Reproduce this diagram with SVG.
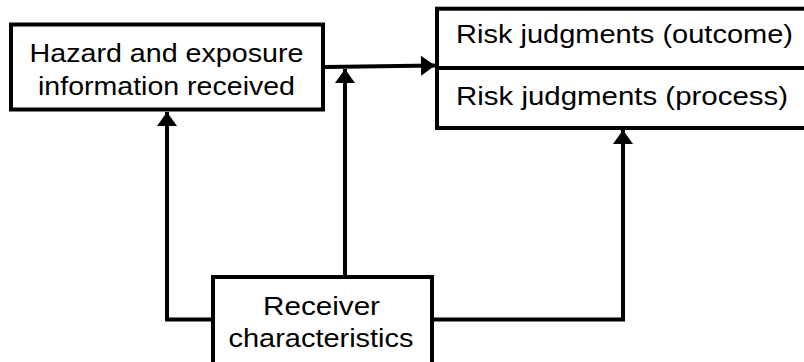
<svg xmlns="http://www.w3.org/2000/svg" width="804" height="362" viewBox="0 0 804 362">
<style>
.box{fill:#fff;stroke:#000;stroke-width:4}
.conn{fill:none;stroke:#000;stroke-width:4}
text{font-family:"Liberation Sans",Arial,sans-serif;font-size:25.5px;fill:#000;text-anchor:middle}
</style>
<defs>
<marker id="arr" markerUnits="userSpaceOnUse" markerWidth="16" markerHeight="20" viewBox="0 0 14 20" refX="14" refY="10" orient="auto">
<path d="M0,0 L14,10 L0,20 Z" fill="#000"/>
</marker>
</defs>
<rect width="804" height="362" fill="#fff"/>
<g id="connectors">
<line class="conn" x1="325" y1="67" x2="435" y2="65.5" marker-end="url(#arr)"/>
<line class="conn" x1="345" y1="277" x2="345" y2="69" marker-end="url(#arr)"/>
<path class="conn" d="M213,319.5 H167 V112" marker-end="url(#arr)"/>
<path class="conn" d="M432,319.5 H623 V130" marker-end="url(#arr)"/>
</g>
<g id="hazard">
<rect class="box" x="11" y="24.5" width="312" height="85"/>
<text x="166.5" y="62" textLength="274" lengthAdjust="spacingAndGlyphs">Hazard and exposure</text>
<text x="166.5" y="95" textLength="257" lengthAdjust="spacingAndGlyphs">information received</text>
</g>
<g id="risk">
<rect class="box" x="437" y="8.7" width="380" height="119.3"/>
<line class="box" x1="437" y1="68" x2="810" y2="68"/>
<text x="624.5" y="43" textLength="337" lengthAdjust="spacingAndGlyphs">Risk judgments (outcome)</text>
<text x="622" y="105" textLength="332" lengthAdjust="spacingAndGlyphs">Risk judgments (process)</text>
</g>
<g id="receiver">
<rect class="box" x="213" y="277" width="219" height="88"/>
<text x="321.5" y="315" textLength="117" lengthAdjust="spacingAndGlyphs">Receiver</text>
<text x="321" y="347.3" textLength="185" lengthAdjust="spacingAndGlyphs">characteristics</text>
</g>
</svg>
